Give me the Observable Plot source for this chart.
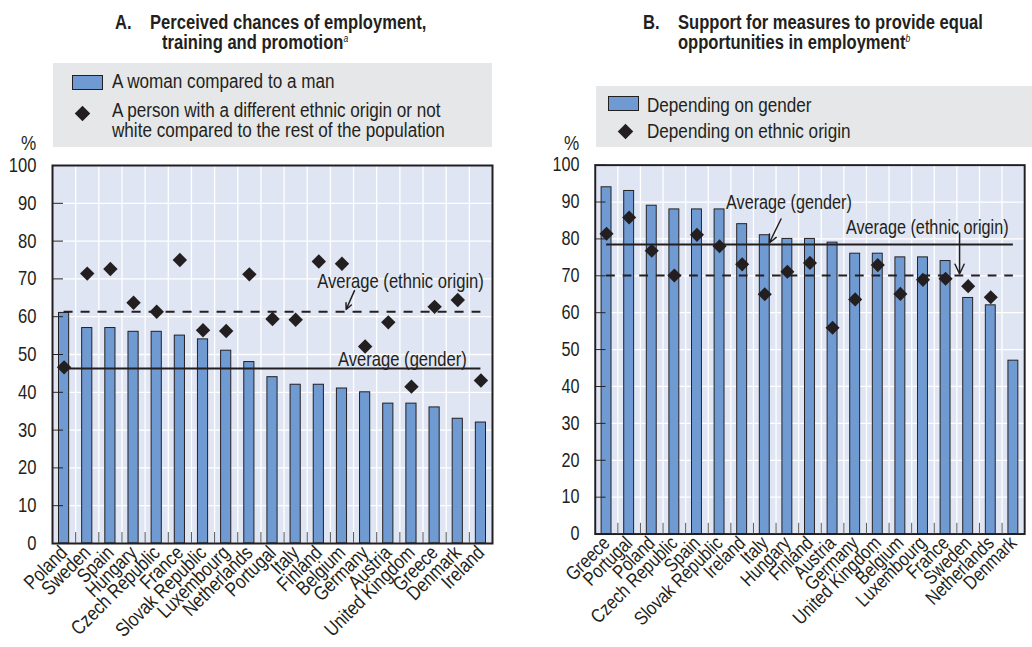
<!DOCTYPE html>
<html><head><meta charset="utf-8">
<script src="https://cdn.jsdelivr.net/npm/d3@7"></script>
<script src="https://cdn.jsdelivr.net/npm/@observablehq/plot@0.6"></script>
<style>
body{margin:0;width:1032px;height:647px;overflow:hidden;position:relative;background:#fff;
 font-family:"Liberation Sans",Arial,sans-serif;color:#231f20}
.abs{position:absolute;white-space:nowrap}
.t{position:absolute;white-space:nowrap;transform:scaleX(0.855);transform-origin:0 0;line-height:1;font-size:20px}
.title{font-weight:bold;font-size:19.5px;transform:scaleX(0.85)}
.title sup{font-weight:normal;font-style:italic;font-size:10px;vertical-align:7px}
.legend{background:#e6e7e8}
.sw{position:absolute;width:29px;height:13px;background:#709bd2;border:1.5px solid #231f20}
.dm{position:absolute;width:11px;height:11px;background:#231f20;transform:rotate(45deg)}
</style></head><body>
<div class="t title" style="left:115px;top:12.5px">A.&nbsp;&nbsp;&nbsp; Perceived chances of employment,</div>
<div class="t title" style="left:162px;top:32.5px">training and promotion<sup>a</sup></div>
<div class="t title" style="left:643px;top:12.5px">B.&nbsp;&nbsp;&nbsp; Support for measures to provide equal</div>
<div class="t title" style="left:678px;top:32.5px">opportunities in employment<sup>b</sup></div>

<div class="abs legend" style="left:53px;top:63px;width:439px;height:84px"></div>
<div class="sw" style="left:72px;top:75px"></div>
<div class="t" style="left:112px;top:71px">A woman compared to a man</div>
<div class="dm" style="left:77px;top:107.5px"></div>
<div class="t" style="left:112px;top:100px">A person with a different ethnic origin or not</div>
<div class="t" style="left:112px;top:120px">white compared to the rest of the population</div>

<div class="abs legend" style="left:596px;top:86px;width:460px;height:61px"></div>
<div class="sw" style="left:608px;top:96px"></div>
<div class="t" style="left:647px;top:95.4px">Depending on gender</div>
<div class="dm" style="left:619.5px;top:126px"></div>
<div class="t" style="left:647px;top:120.8px">Depending on ethnic origin</div>

<div class="t" style="left:21px;top:132.5px">%</div>
<div class="t" style="left:563.5px;top:132.5px">%</div>

<div id="pa" class="abs" style="left:0;top:150px"></div>
<div id="pb" class="abs" style="left:544px;top:150px"></div>
<script>
// Panel A: perceived chances (%)
const countriesA = ["Poland","Sweden","Spain","Hungary","Czech Republic","France","Slovak Republic","Luxembourg","Netherlands","Portugal","Italy","Finland","Belgium","Germany","Austria","United Kingdom","Greece","Denmark","Ireland"];
const genderA = [61,57,57,56,56,55,54,51,48,44,42,42,41,40,37,37,36,33,32];
const ethnicA = [46.6,71.4,72.6,63.7,61.3,75,56.4,56.2,71.2,59.4,59.2,74.6,74,52.1,58.5,41.5,62.6,64.4,43.1];
const averagesA = [46.3, 61.3]; // gender, ethnic origin

// Panel B: support for measures (%)
const countriesB = ["Greece","Portugal","Poland","Czech Republic","Spain","Slovak Republic","Ireland","Italy","Hungary","Finland","Austria","Germany","United Kingdom","Belgium","Luxembourg","France","Sweden","Netherlands","Denmark"];
const genderB = [94,93,89,88,88,88,84,81,80,80,79,76,76,75,75,74,64,62,47];
const ethnicB = [81.4,85.8,76.8,70.1,81.1,78,73.1,65,71.1,73.5,55.9,63.6,72.9,65.1,68.9,69.2,67.2,64.2,null];
const averagesB = [78.5, 70.1];

// annotation labels / arrows (x in category-index units)
const notesA = [{x:15.03,y:69.3,t:"Average (ethnic origin)"},{x:15.11,y:48.6,t:"Average (gender)"}];
const arrowsA = [{x1:13.04,y1:66.9,x2:12.68,y2:61.9}];
const notesB = [{x:8.57,y:89.9,t:"Average (gender)"},{x:14.69,y:83.1,t:"Average (ethnic origin)"}];
const arrowsB = [{x1:8.22,y1:85.4,x2:7.70,y2:78.9},{x1:16.12,y1:81.6,x2:16.12,y2:70.5}];

const ink = "#231f20";
const font = '"Liberation Sans",Arial,sans-serif';

function panel(countries, gender, ethnic, avgs, notes, arrows) {
  const n = countries.length;
  const data = countries.map((c, i) => ({c, i, g: gender[i], e: ethnic[i]}));
  const svg = Plot.plot({
    width: 500, height: 497,
    marginLeft: 52, marginRight: 8, marginTop: 15, marginBottom: 104,
    x: {domain: [0, n], axis: null},
    y: {domain: [0, 100], axis: null},
    style: {fontFamily: font, fontSize: "20px", color: ink, background: "transparent", overflow: "visible"},
    marks: [
      Plot.frame({fill: "#dfe5f2", stroke: null}),
      Plot.gridY(d3.range(10, 100, 10), {stroke: "white", strokeOpacity: 1, strokeWidth: 1.3}),
      Plot.gridX(d3.range(1, n), {stroke: "white", strokeOpacity: 1, strokeWidth: 1.3}),
      Plot.rectY(data, {x1: "i", x2: d => d.i + 1, y: "g", insetLeft: 6.5, insetRight: 6.5,
        fill: "#709bd2", stroke: ink, strokeWidth: 1}),
      Plot.ruleY([avgs[0]], {x1: 0.5, x2: n - 0.5, stroke: ink, strokeWidth: 2}),
      Plot.ruleY([avgs[1]], {x1: 0.5, x2: n - 0.5, stroke: ink, strokeWidth: 2, strokeDasharray: "9,8"}),
      Plot.dot(data, {x: d => d.i + 0.5, y: "e", symbol: "diamond2", r: 6.5, fill: ink, stroke: null}),
      Plot.text(notes, {x: "x", y: "y", text: "t", fill: ink}),
      Plot.arrow(arrows, {x1: "x1", y1: "y1", x2: "x2", y2: "y2", stroke: ink, strokeWidth: 1.5, headLength: 11, headAngle: 50}),
      Plot.frame({stroke: ink, strokeWidth: 2}),
      Plot.axisY(d3.range(0, 101, 10), {tickSize: -11, tickPadding: 27, label: null, stroke: ink}),
      Plot.axisX(d3.range(1, n), {tickSize: -11, tickFormat: () => "", label: null, stroke: "#555"}),
      Plot.axisX(data.map(d => d.i + 0.5), {tickSize: 0, tickRotate: -45, tickPadding: 6,
        tickFormat: v => countries[Math.floor(v)], label: null})
    ]
  });
  // condensed lettering (narrow sans look of the original)
  svg.querySelectorAll("text").forEach(t => {
    const tr = t.getAttribute("transform");
    if (tr) t.setAttribute("transform", tr + " scale(0.83,1)");
  });
  return svg;
}
document.getElementById("pa").append(panel(countriesA, genderA, ethnicA, averagesA, notesA, arrowsA));
document.getElementById("pb").append(panel(countriesB, genderB, ethnicB, averagesB, notesB, arrowsB));
</script>
</body></html>
